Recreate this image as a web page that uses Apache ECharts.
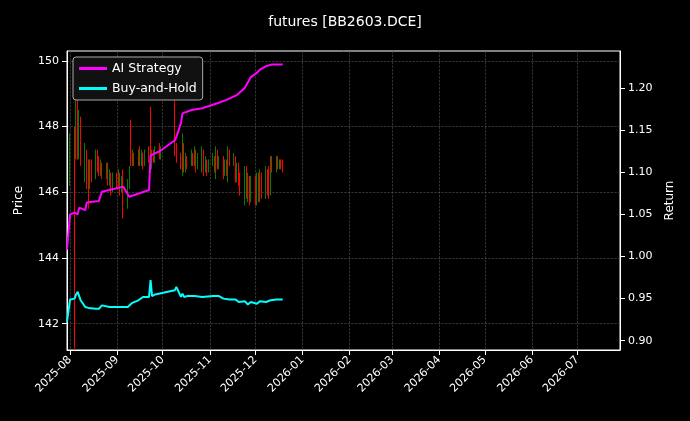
<!DOCTYPE html>
<html>
<head>
<meta charset="UTF-8">
<title>futures</title>
<script src="https://cdn.jsdelivr.net/npm/echarts@6/dist/echarts.min.js"></script>
<style>html,body{margin:0;background:#000}</style>
</head>
<body>
<div id="main" style="width:690px;height:421px"></div>
<script>
// trading months: [year, month, firstDay, lastDay]
var tradingMonths = [[2025, 8, 1, 31], [2025, 9, 1, 30], [2025, 10, 9, 31], [2025, 11, 1, 30], [2025, 12, 1, 19]];
// candles: [open, close, low, high]
var candles = [
  [146.5,147.6,146.2,147.8],[147.7,141.5,141.2,148.0],[147.2,148.6,147.0,148.9],[149.1,147.4,147.0,149.3],
  [147.3,148.2,147.0,148.5],[147.9,147.2,146.8,148.3],[146.6,147.3,146.3,147.5],[147.1,146.6,146.1,147.3],
  [146.9,145.7,145.5,147.0],[146.4,146.8,146.1,147.0],[146.9,146.5,146.3,147.0],[146.6,147.1,146.4,147.3],
  [147.2,146.8,146.6,147.3],[146.9,146.7,146.5,147.1],[146.7,146.9,146.5,147.0],[146.8,146.6,146.4,146.9],
  [146.6,146.7,146.4,146.9],[146.7,146.4,146.2,146.9],[146.4,146.5,146.2,146.7],[146.5,146.2,145.9,146.6],
  [146.2,146.4,146.0,146.6],
  [146.4,146.3,146.1,146.6],[146.3,146.5,146.1,146.7],[146.5,146.1,145.9,146.6],[146.2,146.3,146.0,146.5],
  [146.6,145.4,145.2,146.7],[145.6,146.2,145.5,146.4],[146.3,146.6,146.1,146.8],[147.9,146.9,146.8,148.2],
  [146.9,147.1,146.8,147.3],[147.1,146.9,146.8,147.2],[146.9,147.2,146.8,147.3],[147.2,147.0,146.8,147.4],
  [147.0,147.1,146.8,147.3],[147.1,146.9,146.7,147.2],[146.9,147.2,146.8,147.3],[147.2,147.0,146.9,147.4],
  [148.4,146.8,146.6,148.6],[146.8,147.1,146.7,147.3],[147.1,147.0,146.9,147.3],[147.0,147.3,146.9,147.4],
  [147.3,147.1,147.0,147.5],[147.1,147.3,147.0,147.4],
  [148.6,147.2,147.1,148.8],[147.2,147.0,146.9,147.5],[147.0,146.8,146.7,147.2],[146.8,147.5,146.5,147.8],
  [147.4,146.8,146.6,147.5],[146.8,147.0,146.6,147.2],[147.0,146.9,146.7,147.1],[146.9,147.2,146.8,147.3],
  [147.1,146.9,146.8,147.2],[146.9,147.3,146.8,147.4],[147.2,146.8,146.6,147.3],[146.8,147.1,146.7,147.2],
  [146.7,147.3,146.6,147.4],[147.2,146.6,146.5,147.3],[146.7,147.0,146.6,147.1],[146.9,146.7,146.5,147.0],
  [146.7,146.9,146.6,147.0],
  [146.9,147.1,146.8,147.2],[147.0,146.8,146.6,147.1],[146.5,147.3,146.4,147.4],[147.2,146.9,146.7,147.3],
  [146.9,147.0,146.7,147.1],[147.0,146.6,146.4,147.1],[146.6,146.9,146.5,147.0],[146.9,146.7,146.5,147.0],
  [146.4,147.3,146.3,147.4],[147.2,146.9,146.8,147.3],[146.9,147.0,146.8,147.2],[147.0,146.5,146.3,147.1],
  [146.5,146.8,146.3,146.9],[146.8,146.4,146.2,146.9],[146.4,146.2,145.9,146.6],[145.8,146.6,145.6,146.8],
  [146.6,146.0,145.8,146.8],[146.0,146.4,145.7,146.6],[146.4,145.8,145.6,146.5],[145.9,146.3,145.7,146.5],
  [146.3,145.7,145.6,146.5],[145.7,146.2,145.6,146.6],[146.3,145.8,145.7,146.6],[145.8,146.5,145.7,146.7],
  [146.5,145.9,145.8,146.6],[145.9,146.6,145.8,146.8],[146.6,146.0,145.9,146.7],[146.7,145.9,145.8,146.8],
  [146.0,146.9,145.9,147.1],[146.9,146.7,146.6,147.1],[146.7,147.0,146.6,147.1],[147.0,146.8,146.7,147.1],
  [146.8,146.9,146.7,147.0],[146.9,146.8,146.7,147.0],[147.0,146.7,146.6,147.0]
];
var aiDates = ['2025-07-30','2025-08-01','2025-08-04','2025-08-06','2025-08-07','2025-08-08','2025-08-11','2025-08-12',
  '2025-08-20','2025-08-22','2025-09-05','2025-09-09','2025-09-22','2025-09-23','2025-09-29','2025-10-09','2025-10-10',
  '2025-10-13','2025-10-14','2025-10-20','2025-10-27','2025-11-06','2025-11-12','2025-11-19','2025-11-24','2025-11-28',
  '2025-12-02','2025-12-04','2025-12-05','2025-12-08','2025-12-12','2025-12-19'];
var aiReturn = [1.008,1.05,1.052,1.05,1.058,1.06,1.055,1.064,1.066,1.077,1.083,1.071,1.079,1.12,1.125,1.138,1.142,
  1.158,1.17,1.174,1.176,1.182,1.186,1.192,1.2,1.213,1.218,1.222,1.221,1.226,1.228,1.228];
var bhDates = ['2025-07-30','2025-08-01','2025-08-04','2025-08-05','2025-08-06','2025-08-08','2025-08-11','2025-08-13',
  '2025-08-18','2025-08-20','2025-08-22','2025-08-27','2025-09-03','2025-09-08','2025-09-11','2025-09-15','2025-09-18',
  '2025-09-22','2025-09-23','2025-09-24','2025-09-26','2025-10-09','2025-10-10','2025-10-13','2025-10-14','2025-10-15',
  '2025-10-17','2025-10-22','2025-10-27','2025-11-03','2025-11-07','2025-11-10','2025-11-14','2025-11-18','2025-11-20',
  '2025-11-24','2025-11-26','2025-11-28','2025-12-02','2025-12-04','2025-12-08','2025-12-11','2025-12-15','2025-12-19'];
var bhReturn = [0.922,0.949,0.95,0.955,0.958,0.948,0.94,0.939,0.938,0.938,0.942,0.94,0.94,0.94,0.945,0.948,0.952,
  0.952,0.972,0.953,0.955,0.96,0.964,0.952,0.956,0.952,0.953,0.953,0.952,0.953,0.953,0.95,0.949,0.949,0.946,
  0.947,0.943,0.946,0.944,0.947,0.946,0.948,0.949,0.949];
var priceTicks = [142, 144, 146, 148, 150];
var returnTicks = [0.90, 0.95, 1.00, 1.05, 1.10, 1.15, 1.20];

// trading days (weekdays) from the month ranges
var tradeDates = [];
tradingMonths.forEach(function (m) {
  for (var d = m[2]; d <= m[3]; d++) {
    var dt = new Date(Date.UTC(m[0], m[1] - 1, d));
    var wd = dt.getUTCDay();
    if (wd !== 0 && wd !== 6) tradeDates.push(dt.toISOString().slice(0, 10));
  }
});
var candleData = candles.map(function (c, i) { return [tradeDates[i]].concat(c); });
function pairs(ds, vs) { return ds.map(function (d, i) { return [d, vs[i]]; }); }

var chart = echarts.init(document.getElementById('main'));
var txt = '#ffffff';
var gridLine = {show: true, lineStyle: {color: '#555', type: 'dashed', width: 0.6}};
chart.setOption({
  backgroundColor: '#000',
  animation: false,
  textStyle: {fontFamily: 'DejaVu Sans'},
  title: {text: 'futures [BB2603.DCE]', left: 'center', top: 10,
    textStyle: {color: txt, fontSize: 14, fontWeight: 'normal'}},
  legend: {
    left: 73, top: 57, orient: 'vertical', itemGap: 7, itemWidth: 28, itemHeight: 3,
    padding: [5, 6, 5, 6], backgroundColor: '#111', borderColor: '#aaa', borderWidth: 1, borderRadius: 3,
    textStyle: {color: txt, fontSize: 12.5},
    data: [{name: 'AI Strategy', icon: 'rect'}, {name: 'Buy-and-Hold', icon: 'rect'}]
  },
  grid: {left: 67, right: 70, top: 51, bottom: 71, show: true, borderColor: '#fff', borderWidth: 1},
  xAxis: {
    type: 'time', min: '2025-07-30', max: '2026-07-29',
    minInterval: 28 * 86400000, maxInterval: 31 * 86400000,
    axisLine: {lineStyle: {color: '#fff'}},
    axisTick: {lineStyle: {color: '#fff'}},
    axisLabel: {color: txt, fontSize: 11, rotate: 45, formatter: '{yyyy}-{MM}', hideOverlap: false},
    splitLine: gridLine
  },
  yAxis: [{
    type: 'value', min: 141.2, max: 150.3, position: 'left',
    name: 'Price', nameLocation: 'middle', nameGap: 42, nameTextStyle: {color: txt, fontSize: 12},
    axisLine: {show: true, lineStyle: {color: '#fff'}},
    axisTick: {show: true, customValues: priceTicks, lineStyle: {color: '#fff'}},
    axisLabel: {color: txt, fontSize: 11, customValues: priceTicks},
    splitLine: gridLine
  }, {
    type: 'value', min: 0.889, max: 1.244, position: 'right',
    name: 'Return', nameLocation: 'middle', nameGap: 44, nameTextStyle: {color: txt, fontSize: 12},
    axisLine: {show: true, lineStyle: {color: '#fff'}},
    axisTick: {show: true, customValues: returnTicks, lineStyle: {color: '#fff'}},
    axisLabel: {color: txt, fontSize: 11, customValues: returnTicks, formatter: function (v) { return v.toFixed(2); }},
    splitLine: {show: false}
  }],
  series: [{
    name: 'Price', type: 'candlestick', yAxisIndex: 0, barMaxWidth: 1, barMinWidth: 1,
    itemStyle: {color: '#008000', color0: '#ff0000', borderColor: '#008000', borderColor0: '#ff0000', borderWidth: 1},
    data: candleData
  }, {
    name: 'AI Strategy', type: 'line', yAxisIndex: 1, showSymbol: false, symbol: 'none',
    lineStyle: {color: '#ff00ff', width: 2}, itemStyle: {color: '#ff00ff'},
    data: pairs(aiDates, aiReturn)
  }, {
    name: 'Buy-and-Hold', type: 'line', yAxisIndex: 1, showSymbol: false, symbol: 'none',
    lineStyle: {color: '#00ffff', width: 2}, itemStyle: {color: '#00ffff'},
    data: pairs(bhDates, bhReturn)
  }]
});
</script>
</body>
</html>
